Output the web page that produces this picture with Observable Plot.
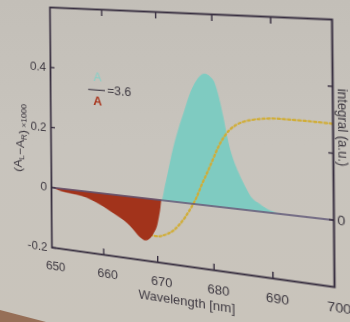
<!DOCTYPE html>
<html><head><meta charset="utf-8">
<script src="https://cdn.jsdelivr.net/npm/d3@7"></script>
<script src="https://cdn.jsdelivr.net/npm/@observablehq/plot@0.6"></script>
<style>
html,body{margin:0;padding:0;width:350px;height:322px;overflow:hidden;}
body{position:relative;background:linear-gradient(180deg,#c3bfb8 0%,#c8c4bd 45%,#c9c4bb 100%);font-family:"Liberation Sans",Arial,sans-serif;}
#edge{position:absolute;left:0;top:0;width:350px;height:322px;background:#8a5a3e;clip-path:polygon(0 310px,46px 322px,0 322px);opacity:.8}
#chart{position:absolute;left:0;top:0;width:350px;height:322px;}
#chart svg{position:absolute;left:0;top:0;transform-origin:0 0;}
</style></head><body><div id="edge"></div><div id="chart"></div>
<script>
// ---- data ----
const wavelengths = [650,652,654,656,658,660,662,664,665,666,667,667.8,668.6,669.4,670.1,670.6,670.9,671.5,672,673,674,675,676,677,678,678.8,679.6,680.4,681.2,682,682.8,683.6,684.5,685.3,686.5,688,689.6,691,693,700];
const signal = [0,-0.01,-0.014,-0.018,-0.028,-0.043,-0.062,-0.082,-0.095,-0.113,-0.13,-0.137,-0.13,-0.11,-0.08,-0.035,0,0.045,0.085,0.165,0.23,0.285,0.34,0.38,0.405,0.412,0.405,0.388,0.34,0.275,0.2,0.15,0.11,0.08,0.042,0.022,0.006,0.001,0,0];
const integralWavelengths = [667,668,669,670,671,672,673,674,675,676,677,678,679,680,681,682,683,684,685,686.5,688.5,691,695,700];
const integralValues = [-0.108,-0.113,-0.116,-0.117,-0.112,-0.103,-0.09,-0.07,-0.045,-0.015,0.02,0.065,0.105,0.148,0.19,0.222,0.245,0.26,0.27,0.279,0.286,0.29,0.29,0.288];
const xTicks = [650,660,670,680,690,700];
const xTickLabels = ["650","660","670","680","690","700"];
const xInnerTicks = [660,670,680,690];
const yTicks = [-0.2,0,0.2,0.4];
const yTickLabels = ["-0.2","0","0.2","0.4"];
const rightTicks = [0,0.2,0.4];
const rightTickLabels = ["0","",""];
const xLabel = "Wavelength [nm]";
const yLabel = "(A_L−A_R) ×1000";
const rightLabel = "integral (a.u.)";
const ratioNumerator = [{x:659.1, y:0.378, t:"A"}];
const ratioDenominator = [{x:659.1, y:0.300, t:"A"}];
const ratioBar = [{x1:657.4, x2:660.6, y:0.336}];
const ratioValue = [{x:660.9, y:0.336, t:"=3.6"}];

// ---- build ----
const spec = wavelengths.map((w,i)=>({w, v:signal[i]}));
const integ = integralWavelengths.map((w,i)=>({w, v:integralValues[i]}));
const ink = "#382f40", txt = "#3f3a42";

const svg = Plot.plot({
  width:350, height:322,
  marginLeft:50, marginRight:17, marginTop:12, marginBottom:56,
  style:{background:"transparent", fontFamily:"'Liberation Sans', Arial, sans-serif", fontSize:"13px", color:txt},
  x:{domain:[650,700]},
  y:{domain:[-0.2,0.6]},
  marks:[
    Plot.areaY(spec,{x:"w", y:d=>Math.max(d.v,0), fill:"#7fcbc1", curve:"monotone-x"}),
    Plot.lineY(integ,{x:"w", y:"v", stroke:"#d0ad38", strokeWidth:2.2, strokeDasharray:"2.2,2.6", curve:"monotone-x"}),
    Plot.areaY(spec,{x:"w", y:d=>Math.min(d.v,0), fill:"#a2331b", curve:"monotone-x"}),
    Plot.ruleY([0],{stroke:"#5b5374", strokeWidth:1.7}),
    Plot.frame({stroke:ink, strokeWidth:1.9}),
    Plot.axisX(xInnerTicks,{anchor:"bottom", tickSize:-6, fill:"none", label:null, stroke:ink, strokeWidth:1.4}),
    Plot.axisX(xInnerTicks,{anchor:"top", tickSize:-6, fill:"none", label:null, stroke:ink, strokeWidth:1.4}),
    Plot.axisX(xTicks,{anchor:"bottom", tickSize:0, tickPadding:14, dx:4, label:null, fill:txt, fontSize:13,
      tickFormat:d=>xTickLabels[xTicks.indexOf(d)]}),
    Plot.axisY(yTicks,{anchor:"left", tickSize:-5, fill:"none", label:null, stroke:ink, strokeWidth:1.4}),
    Plot.axisY(yTicks,{anchor:"left", tickSize:0, tickPadding:5, label:null, fill:txt, fontSize:13,
      tickFormat:d=>yTickLabels[yTicks.indexOf(d)]}),
    Plot.axisY(rightTicks,{anchor:"right", tickSize:-5, fill:"none", label:null, stroke:ink, strokeWidth:1.4}),
    Plot.axisY(rightTicks,{anchor:"right", tickSize:0, tickPadding:3, label:null, fill:txt, fontSize:13,
      tickFormat:d=>rightTickLabels[rightTicks.indexOf(d)]}),
    Plot.text([xLabel],{text:d=>d, frameAnchor:"bottom", textAnchor:"middle", dy:39, fill:txt, fontSize:13}),
    Plot.text([yLabel],{text:d=>d, frameAnchor:"left", textAnchor:"middle", rotate:-90, dx:-38, dy:14, fill:txt, fontSize:13, className:"ylab"}),
    Plot.text([rightLabel],{text:d=>d, frameAnchor:"right", textAnchor:"middle", rotate:90, dx:9, dy:-25, fill:txt, fontSize:12.5}),
    Plot.text(ratioNumerator,{x:"x", y:"y", text:"t", fill:"#86cfc6", fontSize:13}),
    Plot.ruleY(ratioBar,{x1:"x1", x2:"x2", y:"y", stroke:"#4e4852", strokeWidth:1.3}),
    Plot.text(ratioDenominator,{x:"x", y:"y", text:"t", fill:"#a8351d", fontSize:13, fontWeight:"bold"}),
    Plot.text(ratioValue,{x:"x", y:"y", text:"t", textAnchor:"start", fill:txt, fontSize:13})
  ]
});

// subscripts for the y label
const yl = svg.querySelector(".ylab text");
if (yl) {
  yl.textContent = "";
  const parts = [["(A",null],["L","sub"],["−A",null],["R","sub"],[")",null],[" ×1000","small"]];
  for (const [s,kind] of parts) {
    const t = document.createElementNS("http://www.w3.org/2000/svg","tspan");
    t.textContent = s;
    if (kind==="sub") { t.setAttribute("font-size","9"); t.setAttribute("dy","3"); }
    if (kind==="small") { t.setAttribute("font-size","9"); }
    yl.appendChild(t);
    if (kind==="sub") { const r=document.createElementNS("http://www.w3.org/2000/svg","tspan"); r.setAttribute("dy","-3"); r.textContent=""; yl.appendChild(r); }
  }
}
document.getElementById("chart").appendChild(svg);

// perspective of the photographed slide: map the flat frame onto the photo's frame corners
const flatCorners = [[50,12],[333,12],[333,266],[50,266]];
const photoCorners = [[49.5,7],[331.5,19],[334,286.5],[51.5,247]];
function homography(src,dst){
  const A=[],b=[];
  for(let i=0;i<4;i++){
    const [x,y]=src[i],[u,v]=dst[i];
    A.push([x,y,1,0,0,0,-x*u,-y*u]); b.push(u);
    A.push([0,0,0,x,y,1,-x*v,-y*v]); b.push(v);
  }
  const n=8;
  for(let c=0;c<n;c++){
    let p=c; for(let r=c+1;r<n;r++) if(Math.abs(A[r][c])>Math.abs(A[p][c])) p=r;
    [A[c],A[p]]=[A[p],A[c]]; [b[c],b[p]]=[b[p],b[c]];
    for(let r=0;r<n;r++){ if(r===c) continue; const f=A[r][c]/A[c][c]; for(let k=c;k<n;k++) A[r][k]-=f*A[c][k]; b[r]-=f*b[c]; }
  }
  return b.map((bv,i)=>bv/A[i][i]);
}
const h = homography(flatCorners, photoCorners);
svg.style.transform = `matrix3d(${h[0]},${h[3]},0,${h[6]},${h[1]},${h[4]},0,${h[7]},0,0,1,0,${h[2]},${h[5]},0,1)`;
</script>
</body></html>
